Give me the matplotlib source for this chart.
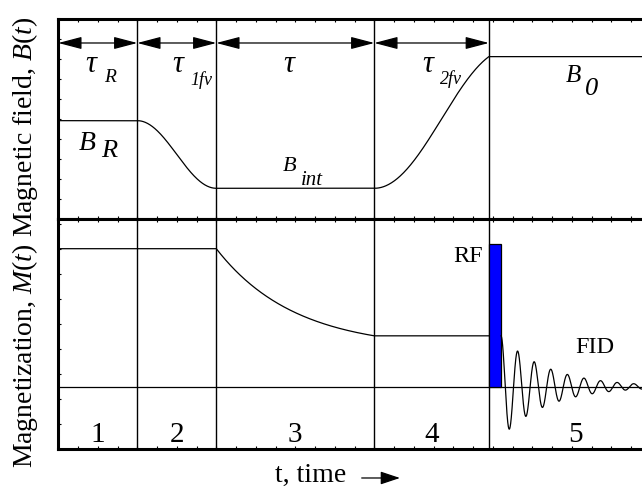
import numpy as np
import matplotlib
matplotlib.use("Agg")
import matplotlib.pyplot as plt

plt.rcParams['font.family'] = ['Liberation Serif', 'DejaVu Serif']
plt.rcParams['mathtext.fontset'] = 'custom'
plt.rcParams['mathtext.rm'] = 'Liberation Serif'
plt.rcParams['mathtext.it'] = 'Liberation Serif:italic'

# Stage boundaries along the time axis (arbitrary units) and stage names
boundaries = [0.0, 4.0, 8.0, 16.0, 21.8]
t_end = 30.6
stage_labels = ['1', '2', '3', '4', '5']

# Magnetic field levels B(t)
B_R = 4.91
B_int = 1.54
B_0 = 8.10
rise_extent = 0.85          # the ramp up to B0 ends while still climbing

# Magnetization M(t): plateau, relaxation at the interaction field
M_0 = 5.51
M_inf = 1.5
T_1 = 3.95

# RF pulse and free induction decay
rf_width = 0.62
rf_height = 5.7
fid_period = 0.84
fid_decay = 2.35

LW = 0.9
SPINE_LW = 2.2

fig = plt.figure(figsize=(6.42, 4.87), dpi=100)
left, width = 0.0908, 0.9414
ax_b = fig.add_axes([left, 0.5499, width, 0.4121])
ax_m = fig.add_axes([left, 0.0776, width, 0.4729])

b0, b1, b2, b3, b4 = boundaries

# ---- field B(t) ----
s = np.linspace(0, 1, 200)
t_fall = b1 + s * (b2 - b1)
B_fall = B_int + (B_R - B_int) * (1 + np.cos(np.pi * s)) / 2
t_rise = b3 + s * (b4 - b3)
B_rise = B_int + (B_0 - B_int) * (1 - np.cos(np.pi * rise_extent * s)) / (1 - np.cos(np.pi * rise_extent))
t_B = np.concatenate([[b0, b1], t_fall, [b2, b3], t_rise, [b4, t_end]])
B_t = np.concatenate([[B_R, B_R], B_fall, [B_int, B_int], B_rise, [B_0, B_0]])
ax_b.plot(t_B, B_t, color='black', lw=LW)

# ---- magnetization M(t) ----
t_relax = np.linspace(b2, b3, 300)
M_relax = M_inf + (M_0 - M_inf) * np.exp(-(t_relax - b2) / T_1)
M_int = M_relax[-1]
t_M = np.concatenate([[b0, b2], t_relax, [b4]])
M_t = np.concatenate([[M_0, M_0], M_relax, [M_int]])
ax_m.plot(t_M, M_t, color='black', lw=LW)
ax_m.axhline(0, color='black', lw=LW)

ax_m.bar(b4, rf_height, width=rf_width, align='edge', color='#0000ff',
         edgecolor='black', linewidth=LW, zorder=3)

t0 = b4 + rf_width
t_fid = np.linspace(t0, t_end, 4000)
fid = M_int * np.exp(-(t_fid - t0) / fid_decay) * np.cos(2 * np.pi * (t_fid - t0) / fid_period)
ax_m.plot(t_fid, fid, color='black', lw=LW, zorder=4)

# stage boundaries through both panels
for ax in (ax_b, ax_m):
    for b in boundaries[1:]:
        ax.axvline(b, color='black', lw=1.0)

# dimension arrows for the stage durations
arrow_y = 8.78
for a, b in zip(boundaries[:-1], boundaries[1:]):
    ax_b.annotate('', xy=(b, arrow_y), xytext=(a, arrow_y),
                  arrowprops=dict(arrowstyle='<|-|>,head_length=1.45,head_width=0.38',
                                  mutation_scale=10, shrinkA=0, shrinkB=0,
                                  color='black', lw=LW))

it = dict(fontstyle='italic', va='baseline', ha='left')

# interval symbols
ax_b.text(1.35, 7.33, 'τ', fontsize=22, **it)
ax_b.text(2.30, 6.84, 'R', fontsize=14, **it)
ax_b.text(5.75, 7.33, 'τ', fontsize=22, **it)
ax_b.text(6.70, 6.69, '1fv', fontsize=13, **it)
ax_b.text(11.38, 7.33, 'τ', fontsize=22, **it)
ax_b.text(18.45, 7.33, 'τ', fontsize=22, **it)
ax_b.text(19.35, 6.74, '2fv', fontsize=13, **it)

# field level labels
ax_b.text(1.05, 3.45, 'B', fontsize=20, **it)
ax_b.text(2.15, 3.10, 'R', fontsize=19, **it)
ax_b.text(11.38, 2.42, 'B', fontsize=16, **it)
ax_b.text(12.30, 1.70, 'int', fontsize=15, **it)
ax_b.text(25.70, 6.85, 'B', fontsize=18, **it)
ax_b.text(26.65, 6.19, '0', fontsize=19, **it)

ax_m.text(21.5, 4.96, 'RF', fontsize=17.5, ha='right', va='baseline')
ax_m.text(27.18, 1.36, 'FID', fontsize=17.5, ha='center', va='baseline')

edges = boundaries + [t_end]
for lab, a, b in zip(stage_labels, edges[:-1], edges[1:]):
    ax_m.text((a + b) / 2, -2.2, lab, fontsize=21, ha='center', va='baseline')

for ax in (ax_b, ax_m):
    ax.set_xlim(0, t_end)
    ax.set_xticks(np.arange(1, t_end, 1))
    for sp in ax.spines.values():
        sp.set_linewidth(SPINE_LW)
    ax.tick_params(direction='in', length=2.5, width=0.8, top=True, bottom=True,
                   left=True, right=False, labelleft=False, labelbottom=False)

ax_b.set_ylim(0, 10)
ax_b.set_yticks(np.arange(1, 10, 1))
ax_m.set_ylim(-2.5, 6.7)
ax_m.set_yticks(np.arange(-1.5, 6.6, 1))

fig.text(0.039, 0.740, 'Magnetic field, $B(t)$', rotation=90, fontsize=20,
         ha='center', va='center')
fig.text(0.039, 0.269, 'Magnetization, $M(t)$', rotation=90, fontsize=20,
         ha='center', va='center')
fig.text(0.4844, 0.0103, 't, time', fontsize=20, ha='center', va='baseline')
fig.add_artist(matplotlib.patches.FancyArrowPatch(
    (0.5634, 0.0185), (0.623, 0.0185), transform=fig.transFigure,
    arrowstyle='-|>,head_length=1.2,head_width=0.4', mutation_scale=10,
    color='black', lw=LW, shrinkA=0, shrinkB=0))

fig.savefig('out.png', dpi=100)
